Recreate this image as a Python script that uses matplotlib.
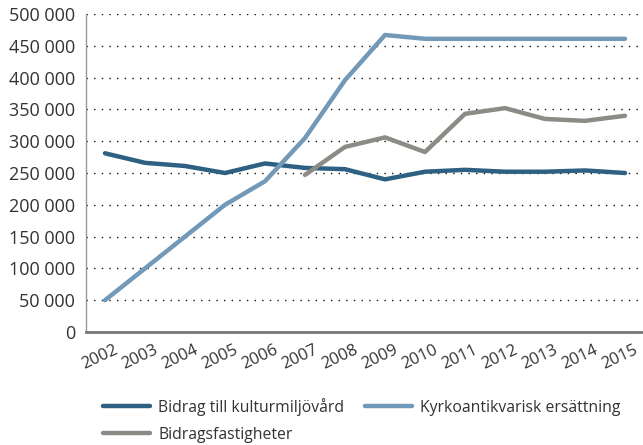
import matplotlib
matplotlib.use("Agg")
import matplotlib.pyplot as plt
from matplotlib.ticker import FuncFormatter
from matplotlib.transforms import ScaledTranslation

years = list(range(2002, 2016))
bidrag = [281000, 266000, 261000, 250000, 265000, 258000, 256000,
          240000, 252000, 255000, 252000, 252000, 254000, 250000]
kyrko = [50000, 100000, 150000, 200000, 237000, 305000, 396000,
         467000, 461000, 461000, 461000, 461000, 461000, 461000]
fast_years = list(range(2007, 2016))
fastigheter = [247000, 291000, 306000, 283000, 343000, 352000, 335000, 332000, 340000]

DARK = "#2e6083"
LIGHT = "#7399b8"
GREY = "#8c8b86"
TEXT = "#333333"

plt.rcParams["font.family"] = ["Open Sans", "DejaVu Sans"]

fig = plt.figure(figsize=(6.43, 4.45), dpi=100)
ax = fig.add_axes([86 / 643, 1 - 332 / 445, 1 - 86 / 643, (332 - 14) / 445])

l1, = ax.plot(years, bidrag, color=DARK, lw=3.2, solid_capstyle="round",
              label="Bidrag till kulturmiljövård", zorder=3)
l2, = ax.plot(years, kyrko, color=LIGHT, lw=3.2, solid_capstyle="round",
              label="Kyrkoantikvarisk ersättning", zorder=3)
l3, = ax.plot(fast_years, fastigheter, color=GREY, lw=3.2, solid_capstyle="round",
              label="Bidragsfastigheter", zorder=3)

ax.set_xlim(2001.525, 2015.45)
ax.set_ylim(0, 500000)
ax.set_yticks(range(0, 500001, 50000))
ax.yaxis.set_major_formatter(FuncFormatter(lambda v, p: f"{int(v):,}".replace(",", " ")))
ax.set_xticks(years)
ax.set_xticklabels([str(y) for y in years], rotation=25, ha="center")

ax.grid(axis="y", color="#111111", linestyle=(0, (1, 4.5)), lw=1.0, zorder=1)
ax.set_axisbelow(True)

for s in ("top", "right"):
    ax.spines[s].set_visible(False)
ax.spines["left"].set_color("#999999")
ax.spines["left"].set_linewidth(1.0)
ax.spines["bottom"].set_color("#777777")
ax.spines["bottom"].set_linewidth(2.0)

ax.tick_params(axis="y", length=0, labelsize=13, colors=TEXT, pad=8)
ax.tick_params(axis="x", length=0, labelsize=12, colors=TEXT, pad=7)

# year labels sit a few pixels left of their ticks in the original
shift = ScaledTranslation(-5 / 100, 0, fig.dpi_scale_trans)
for tick in ax.xaxis.get_major_ticks():
    tick.label1.set_transform(tick.label1.get_transform() + shift)

fig.legend(handles=[l1, l3, l2], loc="upper left", bbox_to_anchor=(0.151, 0.12),
           ncol=2, frameon=False, fontsize=11.3, handlelength=3.0,
           columnspacing=1.3, labelspacing=0.7, handletextpad=0.5,
           labelcolor=TEXT, borderaxespad=0)

fig.savefig("out.png", dpi=100)
